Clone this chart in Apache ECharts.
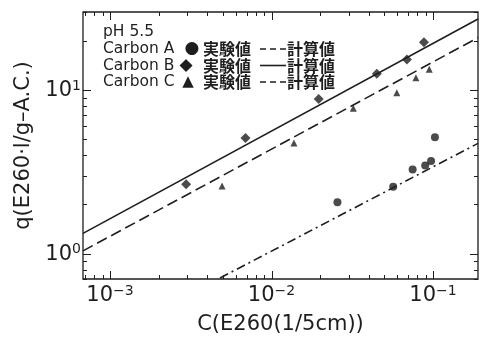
<!DOCTYPE html>
<html><head><meta charset="utf-8">
<script src="https://cdn.jsdelivr.net/npm/echarts@6/dist/echarts.min.js"></script>
<style>html,body{margin:0;padding:0;background:#fff}#c{width:480px;height:340px}</style>
</head><body><div id="c"></div>
<script>
// measured (実験値) points
const carbonA_C = [0.0256, 0.0567, 0.0748, 0.0895, 0.0973, 0.1028];
const carbonA_q = [2.06, 2.56, 3.27, 3.46, 3.68, 5.14];
const carbonB_C = [0.00296, 0.0069, 0.0196, 0.0449, 0.069, 0.0879];
const carbonB_q = [2.66, 5.10, 8.82, 12.6, 15.4, 19.6];
const carbonC_C = [0.00494, 0.01377, 0.0321, 0.0597, 0.0784, 0.0948];
const carbonC_q = [2.59, 4.75, 7.74, 9.63, 11.9, 13.4];
// calculated (計算値) lines, endpoints
const calcA_C = [0.0048, 0.19];
const calcA_q = [0.71, 4.72];
const calcB_C = [0.00068, 0.19];
const calcB_q = [1.33, 27.2];
const calcC_C = [0.00068, 0.19];
const calcC_q = [1.04, 20.9];
// axes
const xMin = 0.00068, xMax = 0.19;
const yMin = 0.7, yMax = 30;
const xDecades = [-4, -3, -2, -1];
const yDecades = [-1, 0, 1];
const minorMult = [2, 3, 4, 5, 6, 7, 8, 9];
const legendRows = [
  {name: 'Carbon A', sym: '●', calc: 'dash'},
  {name: 'Carbon B', sym: '◆', calc: 'solid'},
  {name: 'Carbon C', sym: '▲', calc: 'dash'}
];

const INK = '#1e1e1e';
const pair = (xs, ys) => xs.map((x, i) => [x, ys[i]]);

function tickList(decades, lo, hi, isX) {
  const out = [];
  decades.forEach(d => {
    const b = Math.pow(10, d);
    if (b >= lo && b <= hi) out.push(isX ? [b, 1, 1] : [0.01, b, 1]);
    minorMult.forEach(m => {
      const v = m * b;
      if (v >= lo && v <= hi) out.push(isX ? [v, 1, 0] : [0.01, v, 0]);
    });
  });
  return out;
}
const xTicks = tickList(xDecades, xMin, xMax, true);
const yTicks = tickList(yDecades, yMin, yMax, false);

function powLabel(v) {
  const l = Math.log10(v);
  const e = Math.round(l);
  if (Math.abs(l - e) > 0.01) return '';
  const s = e < 0 ? '\u2212' + (-e) : '' + e;
  return '{b|10}{s|' + s + '}';
}
const richLab = {
  b: {fontSize: 21, fontFamily: 'DejaVu Sans', color: INK, lineHeight: 22, verticalAlign: 'bottom'},
  s: {fontSize: 14, fontFamily: 'DejaVu Sans', color: INK, lineHeight: 14, verticalAlign: 'top'}
};

const graphic = [];
graphic.push({type: 'text', x: 103, y: 32, z: 10,
  style: {text: 'pH 5.5', font: '15.5px "DejaVu Sans"', fill: INK, verticalAlign: 'middle'}});
const symX = [192, 186, 188];
const symFont = ['17px', '17px', '15px'];
legendRows.forEach((r, i) => {
  const y = 49 + i * 16.5;
  graphic.push({type: 'text', x: 103, y: y, z: 10,
    style: {text: r.name, font: '15.5px "DejaVu Sans"', fill: INK, verticalAlign: 'middle'}});
  graphic.push({type: 'text', x: symX[i], y: y, z: 10,
    style: {text: r.sym, font: symFont[i] + ' "DejaVu Sans"', fill: INK, align: 'center', verticalAlign: 'middle'}});
  graphic.push({type: 'text', x: 203, y: y, z: 10,
    style: {text: '実験値', font: 'bold 16px "Noto Sans CJK JP"', fill: INK, verticalAlign: 'middle'}});
  graphic.push({type: 'line', z: 10,
    shape: {x1: 260, y1: y, x2: 286, y2: y},
    style: {stroke: INK, lineWidth: 1.6, lineDash: r.calc === 'dash' ? [6, 4] : null}});
  graphic.push({type: 'text', x: 287, y: y, z: 10,
    style: {text: '計算値', font: 'bold 16px "Noto Sans CJK JP"', fill: INK, verticalAlign: 'middle'}});
});

const chart = echarts.init(document.getElementById('c'), null, {renderer: 'canvas'});
chart.setOption({
  animation: false,
  backgroundColor: '#fff',
  grid: {left: 83, right: 2, top: 12, bottom: 59, show: true, borderColor: INK, borderWidth: 1.3, backgroundColor: 'transparent'},
  xAxis: {
    type: 'log', logBase: 10, min: xMin, max: xMax,
    name: 'C(E260(1/5cm))', nameLocation: 'middle', nameGap: 35,
    nameTextStyle: {fontSize: 21, fontFamily: 'DejaVu Sans', color: INK},
    axisLine: {show: false}, axisTick: {show: false}, splitLine: {show: false}, minorTick: {show: false},
    axisLabel: {margin: 5, formatter: powLabel, rich: richLab, showMinLabel: false, showMaxLabel: false}
  },
  yAxis: {
    type: 'log', logBase: 10, min: yMin, max: yMax,
    name: 'q(E260·l/g–A.C.)', nameLocation: 'middle', nameGap: 48,
    nameTextStyle: {fontSize: 21, fontFamily: 'DejaVu Sans', color: INK},
    axisLine: {show: false}, axisTick: {show: false}, splitLine: {show: false}, minorTick: {show: false},
    axisLabel: {margin: 2, formatter: powLabel, rich: richLab, showMinLabel: false, showMaxLabel: false}
  },
  graphic: graphic,
  series: [
    {type: 'custom', silent: true, dimensions: ['x', 'y', 'f'], encode: {x: 0, y: 1}, data: xTicks, clip: false,
      renderItem: (params, api) => {
        const cs = params.coordSys;
        const px = Math.round(api.coord([api.value(0), 1])[0]) + 0.5;
        const len = api.value(2) ? 8 : 4;
        const b = cs.y + cs.height;
        return {type: 'group', children: [
          {type: 'line', shape: {x1: px, y1: b, x2: px, y2: b - len}, style: {stroke: INK, lineWidth: 1}},
          {type: 'line', shape: {x1: px, y1: cs.y, x2: px, y2: cs.y + len}, style: {stroke: INK, lineWidth: 1}}
        ]};
      }},
    {type: 'custom', silent: true, dimensions: ['x', 'y', 'f'], encode: {x: 0, y: 1}, data: yTicks, clip: false,
      renderItem: (params, api) => {
        const cs = params.coordSys;
        const py = Math.round(api.coord([0.01, api.value(1)])[1]) + 0.5;
        const len = api.value(2) ? 8 : 4;
        const r = cs.x + cs.width;
        return {type: 'group', children: [
          {type: 'line', shape: {x1: cs.x, y1: py, x2: cs.x + len, y2: py}, style: {stroke: INK, lineWidth: 1}},
          {type: 'line', shape: {x1: r, y1: py, x2: r - len, y2: py}, style: {stroke: INK, lineWidth: 1}}
        ]};
      }},
    {name: 'Carbon A 計算値', type: 'line', data: pair(calcA_C, calcA_q), symbol: 'none',
      lineStyle: {color: INK, width: 1.6, type: [9, 4, 2, 4]}},
    {name: 'Carbon B 計算値', type: 'line', data: pair(calcB_C, calcB_q), symbol: 'none',
      lineStyle: {color: INK, width: 1.6, type: 'solid'}},
    {name: 'Carbon C 計算値', type: 'line', data: pair(calcC_C, calcC_q), symbol: 'none',
      lineStyle: {color: INK, width: 1.6, type: [11, 5]}},
    {name: 'Carbon A 実験値', type: 'scatter', data: pair(carbonA_C, carbonA_q), symbol: 'circle', symbolSize: 8,
      itemStyle: {color: INK}},
    {name: 'Carbon B 実験値', type: 'scatter', data: pair(carbonB_C, carbonB_q), symbol: 'diamond', symbolSize: 10,
      itemStyle: {color: INK}},
    {name: 'Carbon C 実験値', type: 'scatter', data: pair(carbonC_C, carbonC_q), symbol: 'triangle', symbolSize: 7,
      itemStyle: {color: INK}}
  ]
});
</script></body></html>
